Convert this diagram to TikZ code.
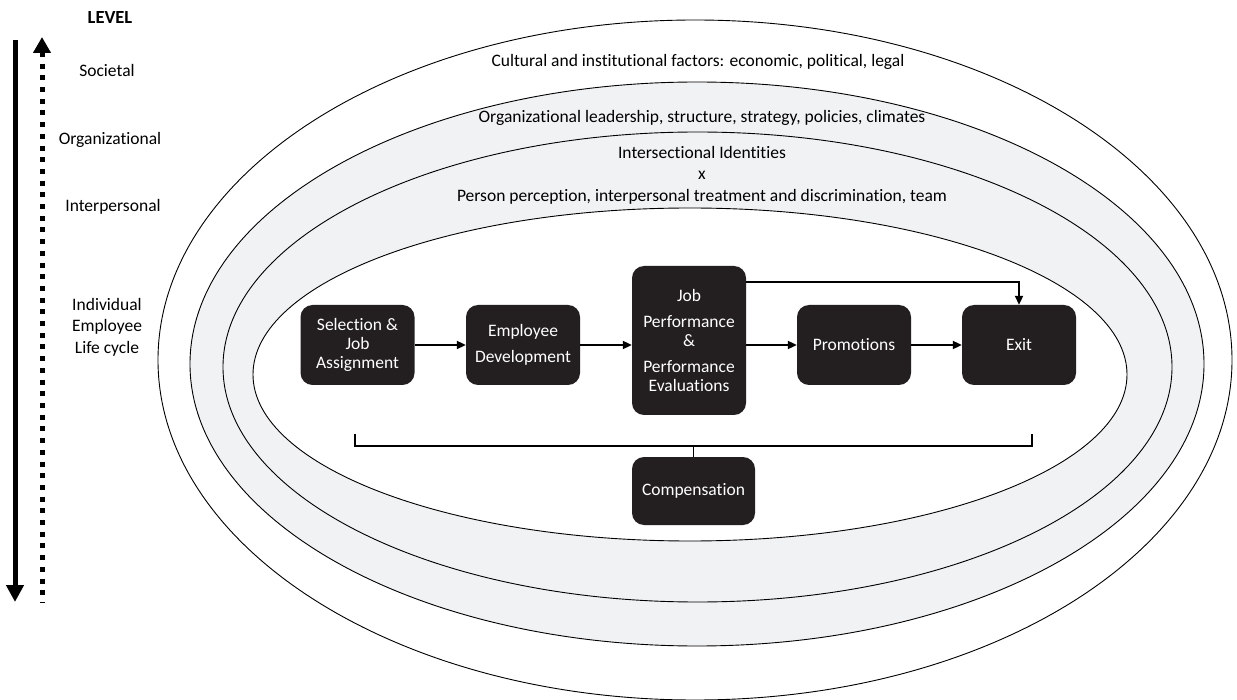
\documentclass[tikz,border=0pt]{standalone}
\usepackage{fontspec}
\setmainfont[Ligatures={NoCommon}]{Carlito}
\usetikzlibrary{arrows.meta}
\definecolor{boxfill}{HTML}{231F20}
\definecolor{band}{HTML}{F1F2F4}
\begin{document}
\begin{tikzpicture}[x=1pt,y=-1pt,
  stage/.style={draw=none, fill=boxfill, text=white, rounded corners=12pt,
    minimum width=114pt, minimum height=80pt, align=center,
    font=\fontsize{17.5}{19}\selectfont, inner sep=2pt},
  flow/.style={line width=2pt, -{Triangle[length=9pt,width=8pt]}},
  ring/.style={line width=0.9pt},
  lab/.style={font=\fontsize{17.5}{21.5}\selectfont, align=center},
  lvl/.style={font=\fontsize{17.5}{21.5}\selectfont, align=center}
]
\useasboundingbox (0,0) rectangle (1237,700);
% rings
\draw[ring, fill=white] (695,360) ellipse [x radius=537, y radius=340];
\draw[ring, fill=band] (697,364) ellipse [x radius=507, y radius=282];
\draw[ring] (697.5,367) ellipse [x radius=474.5, y radius=235];
\draw[ring, fill=white] (690,374.5) ellipse [x radius=437, y radius=166.5];
% ring labels
\node[lab] (cult) at (698,62) {Cultural and institutional factors: economic, political, legal};
\node[lab] (org) at (702,118) {Organizational leadership, structure, strategy, policies, climates};
\node[lab] (inter) at (702,175) {Intersectional Identities\\x\\Person perception, interpersonal treatment and discrimination, team};
% level column
\node[font=\fontsize{18.5}{20}\selectfont\bfseries] (level) at (110,18) {LEVEL};
\node[lvl] (soc) at (107,70) {Societal};
\node[lvl] (orgl) at (110,140) {Organizational};
\node[lvl] (intl) at (113,207) {Interpersonal};
\node[lvl] (ind) at (107,327) {Individual\\Employee\\Life cycle};
\coordinate (solidtop) at (15,40);
\coordinate (solidbot) at (15,602);
\coordinate (dottop) at (42,37);
\coordinate (dotbot) at (42,603);
\draw[line width=5pt, -{Triangle[length=17pt,width=17pt]}] (solidtop) -- (solidbot);
\draw[line width=5pt, dash pattern=on 5pt off 6.7pt, {Triangle[length=16pt,width=17pt]}-] (dottop) -- (dotbot);
% stages
\node[stage] (sel) at (357.5,345) {Selection \&\\Job\\Assignment};
\node[stage] (dev) at (523,345) {Employee\\[7pt]Development};
\node[stage, minimum height=149pt] (job) at (689,340.5) {Job\\[7pt]Performance\\\&\\[7pt]Performance\\Evaluations};
\node[stage] (prom) at (854,345) {Promotions};
\node[stage] (exit) at (1019,345) {Exit};
\node[stage, minimum width=123pt, minimum height=68pt] (comp) at (693.5,491) {Compensation};
% flows
\draw[flow] (sel.east) -- (dev.west);
\draw[flow] (dev.east) -- (dev.east -| job.west);
\draw[flow] (job.east |- prom.west) -- (prom.west);
\draw[flow] (prom.east) -- (exit.west);
\draw[flow] ([yshift=-16pt]job.north east) -| (exit.north);
% bracket
\coordinate (bl) at (355,434);
\coordinate (br) at (1032,434);
\coordinate (bm) at (693.5,446);
\draw[line width=1.8pt] (bl) -- (bl |- bm) -- (br |- bm) -- (br);
\draw[line width=1.8pt] (bm) -- (comp.north);
\end{tikzpicture}
\end{document}
